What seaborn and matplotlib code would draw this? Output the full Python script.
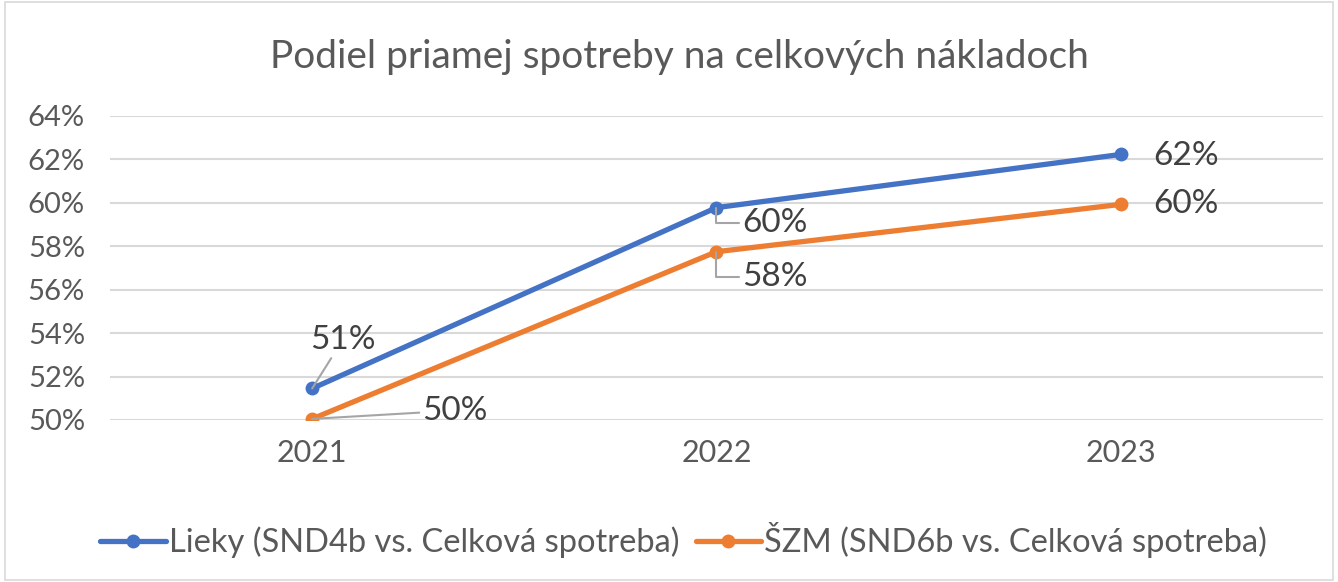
import pandas as pd
import matplotlib
matplotlib.use('Agg')
import matplotlib.pyplot as plt
from matplotlib.ticker import PercentFormatter
from matplotlib.patches import Rectangle
import seaborn as sns

# data
years = ['2021', '2022', '2023']
lieky = [0.5145, 0.5978, 0.6223]
szm = [0.5005, 0.5775, 0.5993]
series_names = ['Lieky (SND4b vs. Celková spotreba)', 'ŠZM (SND6b vs. Celková spotreba)']
title = 'Podiel priamej spotreby na celkových nákladoch'

df = pd.DataFrame({
    'rok': years * 2,
    'podiel': lieky + szm,
    'rad': [series_names[0]] * 3 + [series_names[1]] * 3,
})

sns.set_theme(style='white')
plt.rcParams['font.family'] = ['Lato', 'DejaVu Sans']

text_color = '#595959'
colors = ['#4472C4', '#ED7D31']

fig = plt.figure(figsize=(13.38, 5.82), dpi=100)
ax = fig.add_axes([0.0822, 0.2784, 0.9066, 0.5223])

sns.lineplot(data=df, x='rok', y='podiel', hue='rad', palette=colors,
             marker='o', markersize=10, markeredgewidth=0, linewidth=3.8,
             ax=ax, legend=False, zorder=3)

ax.set_xlim(-0.5, 2.5)
ax.set_ylim(0.50, 0.64)
ax.set_yticks([0.50, 0.52, 0.54, 0.56, 0.58, 0.60, 0.62, 0.64])
ax.yaxis.set_major_formatter(PercentFormatter(1.0, decimals=0))
ax.grid(axis='y', color='#D9D9D9', linewidth=1.5)
ax.set_axisbelow(True)
for s in ax.spines.values():
    s.set_visible(False)
ax.set_xlabel('')
ax.set_ylabel('')
ax.tick_params(axis='both', colors=text_color, length=0)
ax.tick_params(axis='x', labelsize=22, pad=14)
ax.tick_params(axis='y', labelsize=21, pad=18)

fig.text(0.508, 0.902, title, fontsize=28, color=text_color, ha='center', va='center')

# data labels with leader lines
lead = dict(arrowstyle='-', color='#A5A5A5', linewidth=1.5, shrinkA=0, shrinkB=0)
lab_kw = dict(textcoords='offset points', fontsize=24, color='#404040',
              ha='center', va='center')
ax.annotate(f'{lieky[0]:.0%}', xy=(0, lieky[0]), xytext=(22, 35), arrowprops=lead, **lab_kw)
ax.annotate(f'{szm[0]:.0%}', xy=(0, szm[0]), xytext=(103, 6), arrowprops=lead, **lab_kw)
ax.annotate(f'{lieky[1]:.0%}', xy=(1, lieky[1]), xytext=(42, -11),
            arrowprops=dict(lead, connectionstyle='angle,angleA=0,angleB=90,rad=0'), **lab_kw)
ax.annotate(f'{szm[1]:.0%}', xy=(1, szm[1]), xytext=(42, -18),
            arrowprops=dict(lead, connectionstyle='angle,angleA=0,angleB=90,rad=0'), **lab_kw)
ax.annotate(f'{lieky[2]:.0%}', xy=(2, lieky[2]), xytext=(47, -1), **lab_kw)
ax.annotate(f'{szm[2]:.0%}', xy=(2, szm[2]), xytext=(47, 0), **lab_kw)

handles = [plt.Line2D([], [], color=c, marker='o', markersize=10, linewidth=3.8,
                      markeredgewidth=0) for c in colors]
fig.legend(handles, series_names, loc='center', bbox_to_anchor=(0.511, 0.072), ncol=2,
           frameon=False, fontsize=23.5, labelcolor=text_color, handlelength=2.0,
           handletextpad=0.1, columnspacing=0.5)

fig.patches.append(Rectangle((0.004, 0.004), 0.992, 0.992, transform=fig.transFigure,
                             fill=False, edgecolor='#D9D9D9', linewidth=1.2))

fig.savefig('out.png', dpi=100)
